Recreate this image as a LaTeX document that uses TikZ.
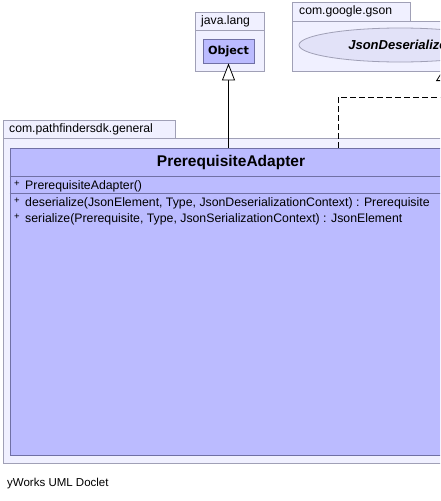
\documentclass[tikz,border=0pt]{standalone}
\usepackage{fontspec}
\setmainfont{Liberation Sans}
\newfontfamily\dejavu{DejaVu Sans}
\usetikzlibrary{positioning,arrows.meta,shapes.geometric}

\definecolor{pkgfill}{RGB}{240,240,255}
\definecolor{pkgline}{RGB}{160,160,182}
\definecolor{clsfill}{RGB}{187,187,255}
\definecolor{clsline}{RGB}{112,112,165}
\definecolor{ifcfill}{RGB}{226,226,248}

\begin{document}
\begin{tikzpicture}[x=1pt, y=-1pt,
  pkg/.style={draw=pkgline, fill=pkgfill, line width=0.8pt},
  pkglab/.style={font=\fontsize{12.2}{14}\selectfont, anchor=west, inner sep=0pt},
  cls/.style={draw=clsline, fill=clsfill, line width=0.8pt, inner sep=0pt},
  member/.style={font=\fontsize{12.3}{14}\selectfont, anchor=west, inner sep=0pt},
  vis/.style={font=\fontsize{9.5}{10}\selectfont, anchor=west, inner sep=0pt},
  inh/.style={-{Triangle[open, length=17pt, width=13pt, fill=white]}, line width=0.8pt},
  real/.style={dash pattern=on 6pt off 3pt, line width=0.8pt}]
  \useasboundingbox (0,0) rectangle (440,501);
  \clip (0,0) rectangle (440,501);
  \fill[white] (0,0) rectangle (440,501);
  % java.lang
  \draw[pkg] (195,12) rectangle (264,30);
  \draw[pkg] (195,30) rectangle (264,71);
  \node[pkglab] (lang) at (201,21) {java.lang};
  \node[cls, minimum width=51pt, minimum height=24pt, font=\dejavu\bfseries\fontsize{11.2}{12}\selectfont] (object) at (228.5,51) {Object};
  % com.google.gson
  \draw[pkg] (292,2) rectangle (410,21);
  \draw[pkg] (292,21) rectangle (470,71);
  \node[pkglab] (gson) at (299,11.5) {com.google.gson};
  \node[ellipse, draw=pkgline, fill=ifcfill, line width=0.8pt, minimum width=202pt, minimum height=34pt, inner sep=0pt,
    font=\bfseries\itshape\fontsize{13}{15}\selectfont] (deser) at (400,45) {JsonDeserializer};
  % com.pathfindersdk.general
  \draw[pkg] (3,120) rectangle (175,138);
  \draw[pkg] (3,138) rectangle (470,463);
  \node[pkglab] (general) at (9,129) {com.pathfindersdk.general};
  \node[cls, minimum width=442pt, minimum height=307pt] (adapter) at (231,301.5) {};
  \node[font=\bfseries\fontsize{15.5}{18}\selectfont] (title) at (231,162) {PrerequisiteAdapter};
  \draw[clsline, line width=0.8pt] (adapter.west |- 0,176) -- (adapter.east |- 0,176);
  \draw[clsline, line width=0.8pt] (adapter.west |- 0,193) -- (adapter.east |- 0,193);
  \node[vis] (v1) at (14,184) {+};
  \node[member] (ctor) at (25,186) {PrerequisiteAdapter()};
  \node[vis] (v2) at (14,201) {+};
  \node[member] (deserm) at (25,203) {deserialize(JsonElement, Type, JsonDeserializationContext) : Prerequisite};
  \node[vis] (v3) at (14,217) {+};
  \node[member] (serm) at (25,219) {serialize(Prerequisite, Type, JsonSerializationContext) : JsonElement};
  % connectors
  \draw[inh] (adapter.north -| object.south) -- (object.south);
  \coordinate (offR) at (445,97);
  \coordinate (tipJ) at (441,73);
  \draw[real] ([xshift=107pt]adapter.north) |- (offR);
  \draw[real, -{Triangle[open, length=8pt, width=10pt, fill=white]}] (441,97) -- (tipJ);
  \node[font=\fontsize{11.5}{13}\selectfont, anchor=west, inner sep=0pt] (doclet) at (7,484) {yWorks UML Doclet};
\end{tikzpicture}
\end{document}
